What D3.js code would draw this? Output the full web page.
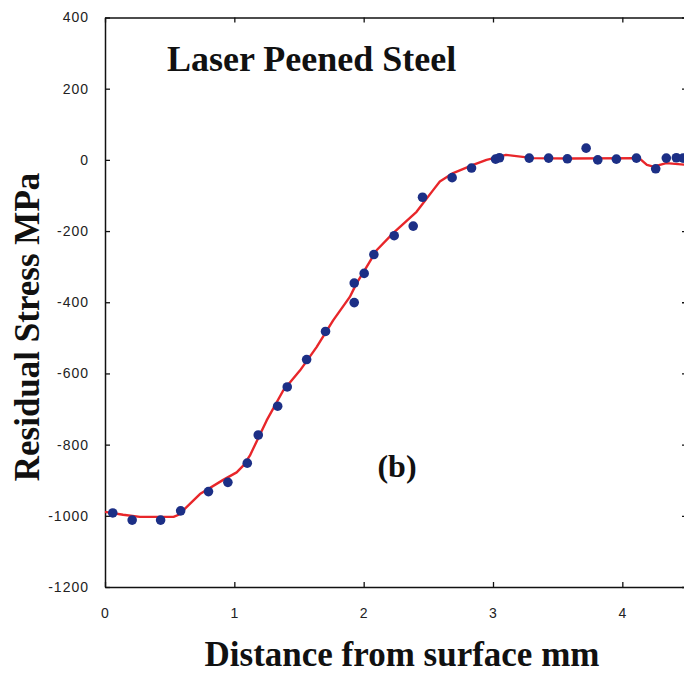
<!DOCTYPE html>
<html>
<head>
  <meta charset="utf-8">
  <title>Laser Peened Steel</title>
  <script src="https://cdn.jsdelivr.net/npm/d3@7"></script>
  <style>
    body { margin: 0; background: #fff; }
    .tick text { font-family: "Liberation Sans", Arial, sans-serif; font-size: 14px; fill: #222; }
    .ttl { font-family: "Liberation Serif", "Times New Roman", serif; font-weight: bold; fill: #111; }
  </style>
</head>
<body>
<script>

// measured points (distance mm, stress MPa)
var dotX = [0.06, 0.21, 0.43, 0.585, 0.80, 0.95, 1.10, 1.185, 1.335, 1.409, 1.559, 1.705,
            1.927, 1.927, 2.004, 2.079, 2.236, 2.383, 2.455, 2.684, 2.834, 3.02, 3.05,
            3.28, 3.43, 3.575, 3.72, 3.81, 3.954, 4.109, 4.258, 4.34, 4.418, 4.47];
var dotY = [-992, -1012, -1012, -986, -932, -906, -852, -773, -692, -638, -561, -482,
            -401, -346, -319, -266, -213, -186, -105, -50, -23, 2, 6,
            5, 5, 3, 33, 0, 2, 5, -25, 5, 6, 5];

// fitted curve
var fitX = [0, 0.14, 0.27, 0.53, 0.57, 0.734, 0.914, 1.018, 1.069, 1.12, 1.25, 1.378, 1.507,
            1.636, 1.764, 1.893, 1.945, 2.022, 2.10, 2.228, 2.409, 2.537, 2.589, 2.692,
            2.846, 2.95, 3.053, 3.10, 3.31, 3.6, 4.13, 4.19, 4.24, 4.34, 4.5];
var fitY = [-989, -997, -1003, -1003, -997, -939, -899, -878, -859, -831, -732, -648, -592,
            -526, -451, -385, -347, -301, -254, -206, -146, -85, -61, -37,
            -14, 0, 9, 14, 5, 4, 5, -14, -19, -9, -14];

var xTicks = [0, 1, 2, 3, 4];
var yTicks = [400, 200, 0, -200, -400, -600, -800, -1000, -1200];

var width = 684, height = 675;
var mLeft = 105, mRight = 687, mTop = 17.5, mBottom = 587;

var svg = d3.select("body").append("svg")
    .attr("width", width)
    .attr("height", height);

var x = d3.scaleLinear().domain([0, 4.5]).range([mLeft, mRight]);
var y = d3.scaleLinear().domain([-1200, 400]).range([mBottom, mTop]);

// axes with inward ticks
svg.append("g")
    .attr("transform", "translate(" + mLeft + ",0)")
    .call(d3.axisLeft(y).tickValues(yTicks).tickSizeInner(-5).tickSizeOuter(0).tickPadding(16)
      .tickFormat(function(d) { return d < 0 ? "-" + Math.abs(d) : d; }));
svg.append("g")
    .attr("transform", "translate(0," + mBottom + ")")
    .call(d3.axisBottom(x).tickValues(xTicks).tickSizeInner(-5).tickSizeOuter(0).tickPadding(21)
      .tickFormat(d3.format("d")));
svg.append("g")
    .attr("transform", "translate(" + mRight + ",0)")
    .call(d3.axisRight(y).tickValues(yTicks).tickSizeInner(-5).tickSizeOuter(0).tickFormat(""));
svg.append("g")
    .attr("transform", "translate(0," + mTop + ")")
    .call(d3.axisTop(x).tickValues(xTicks).tickSizeInner(-5).tickSizeOuter(0).tickFormat(""));

svg.selectAll(".domain").attr("stroke", "#111").attr("stroke-width", 1.5);
svg.selectAll(".tick line").attr("stroke", "#111").attr("stroke-width", 1.3);
svg.selectAll(".tick text").attr("letter-spacing", "1px");

// red fit line
var line = d3.line()
    .x(function(d) { return x(d[0]); })
    .y(function(d) { return y(d[1]); });

svg.append("path")
    .datum(d3.zip(fitX, fitY))
    .attr("d", line)
    .attr("fill", "none")
    .attr("stroke", "#e8262a")
    .attr("stroke-width", 2.4)
    .attr("stroke-linejoin", "round");

// blue dots
svg.selectAll("circle.pt")
    .data(d3.zip(dotX, dotY))
  .enter().append("circle")
    .attr("class", "pt")
    .attr("cx", function(d) { return x(d[0]); })
    .attr("cy", function(d) { return y(d[1]); })
    .attr("r", 4.8)
    .attr("fill", "#1c2f86");

// titles
svg.append("text").attr("class", "ttl")
    .attr("x", 167).attr("y", 71)
    .style("font-size", "36px")
    .text("Laser Peened Steel");

svg.append("text").attr("class", "ttl")
    .attr("x", 397).attr("y", 477)
    .attr("text-anchor", "middle")
    .style("font-size", "32px")
    .text("(b)");

svg.append("text").attr("class", "ttl")
    .attr("x", 402).attr("y", 666)
    .attr("text-anchor", "middle")
    .style("font-size", "35px")
    .text("Distance from surface mm");

svg.append("text").attr("class", "ttl")
    .attr("transform", "translate(39,327) rotate(-90)")
    .attr("text-anchor", "middle")
    .style("font-size", "35px")
    .text("Residual Stress  MPa");

</script>
</body>
</html>
